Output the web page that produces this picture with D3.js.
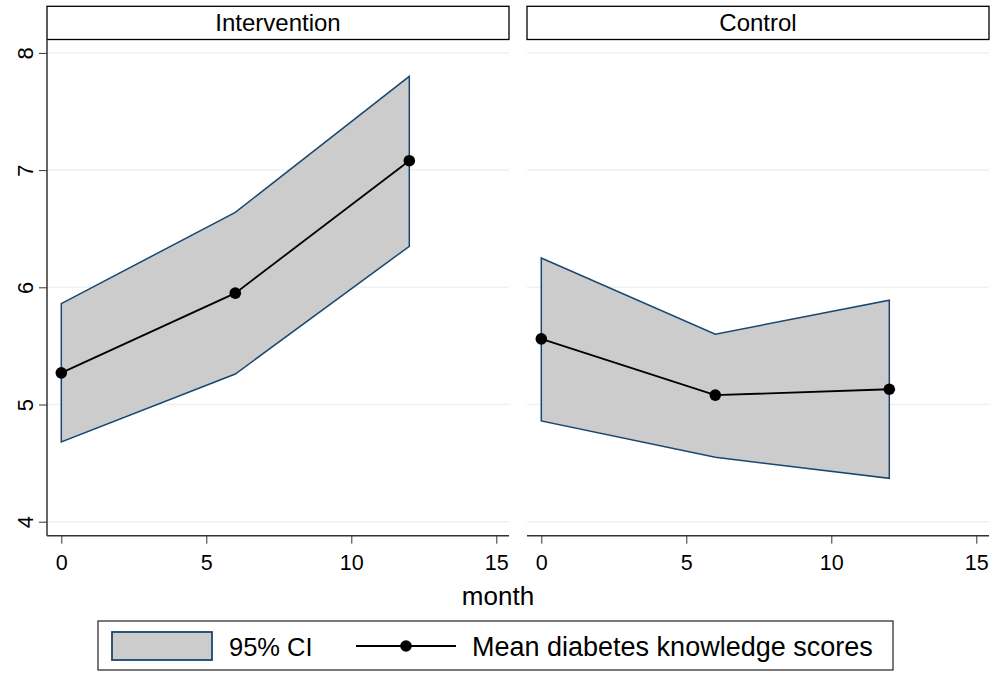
<!DOCTYPE html>
<html>
<head>
<meta charset="utf-8">
<script src="https://cdn.jsdelivr.net/npm/d3@7"></script>
<style>
  body { margin: 0; background: #fff; }
  text { font-family: "Liberation Sans", Arial, sans-serif; fill: #000; }
</style>
</head>
<body>
<svg id="chart" width="994" height="673"></svg>
<script>
// data
var groups = ["Intervention", "Control"];
var months = [0, 6, 12];
var meanScores = [[5.27, 5.95, 7.08], [5.56, 5.08, 5.13]];
var upperCI = [[5.86, 6.64, 7.80], [6.25, 5.60, 5.89]];
var lowerCI = [[4.68, 5.26, 6.35], [4.86, 4.55, 4.37]];
var xTicks = [0, 5, 10, 15];
var yTicks = [4, 5, 6, 7, 8];

var svg = d3.select("#chart");
var navy = "#1a476f";
var gridColor = "#eaf2f3";
var fontFam = "Liberation Sans, Arial, sans-serif";

// panel geometry
var panels = [{left: 47, right: 509}, {left: 527, right: 989}];
var plotTop = 39.5, plotBottom = 535.7;

var y = d3.scaleLinear().domain([4, 8]).range([521.7, 52.9]);

panels.forEach(function(p, gi) {
  var x0 = p.left + 14.3;
  var x = d3.scaleLinear().domain([0, 15]).range([x0, x0 + 435]);
  var g = svg.append("g");

  // grid lines
  g.selectAll("line.grid").data(yTicks).enter().append("line")
    .attr("x1", p.left).attr("x2", p.right)
    .attr("y1", function(d) { return y(d); }).attr("y2", function(d) { return y(d); })
    .attr("stroke", gridColor).attr("stroke-width", 1.5);

  // CI band
  var band = months.map(function(m, i) { return [m, lowerCI[gi][i], upperCI[gi][i]]; });
  var area = d3.area()
    .x(function(d) { return x(d[0]); })
    .y0(function(d) { return y(d[1]); })
    .y1(function(d) { return y(d[2]); });
  var poly = band.map(function(d) { return [x(d[0]), y(d[2])]; })
    .concat(band.slice().reverse().map(function(d) { return [x(d[0]), y(d[1])]; }));
  g.append("path")
    .attr("d", area(band))
    .attr("fill", "#cccccc");
  g.append("path")
    .attr("d", "M" + poly.join("L") + "Z")
    .attr("fill", "none").attr("stroke", navy).attr("stroke-width", 1.5);

  // mean line + markers
  var pts = months.map(function(m, i) { return [m, meanScores[gi][i]]; });
  g.append("path")
    .attr("d", d3.line().x(function(d) { return x(d[0]); }).y(function(d) { return y(d[1]); })(pts))
    .attr("fill", "none").attr("stroke", "#000").attr("stroke-width", 1.8);
  g.selectAll("circle").data(pts).enter().append("circle")
    .attr("cx", function(d) { return x(d[0]); })
    .attr("cy", function(d) { return y(d[1]); })
    .attr("r", 5.8).attr("fill", "#000");

  // x axis
  var xa = g.append("g").attr("transform", "translate(0," + plotBottom + ")")
    .call(d3.axisBottom(x).tickValues(xTicks).tickSize(8).tickPadding(11).tickFormat(d3.format("d")));
  xa.select(".domain").attr("d", "M" + p.left + ",0H" + p.right).attr("stroke", "#333").attr("stroke-width", 1.5);
  xa.selectAll(".tick line").attr("stroke", "#333").attr("stroke-width", 1);
  xa.selectAll(".tick text").attr("font-size", 21.5).attr("font-family", fontFam);

  // strip title
  g.append("rect")
    .attr("x", p.left).attr("y", 6.3).attr("width", p.right - p.left).attr("height", plotTop - 6.3)
    .attr("fill", "#fff").attr("stroke", "#000").attr("stroke-width", 1.3);
  g.append("text")
    .attr("x", (p.left + p.right) / 2).attr("y", 31)
    .attr("text-anchor", "middle").attr("font-size", 24)
    .text(groups[gi]);
});

// y axis on left panel
var ya = svg.append("g").attr("transform", "translate(" + panels[0].left + ",0)")
  .call(d3.axisLeft(y).tickValues(yTicks).tickSize(8).tickPadding(0).tickFormat(d3.format("d")));
ya.select(".domain").attr("d", "M0," + plotTop + "V" + plotBottom).attr("stroke", "#333").attr("stroke-width", 1.5);
ya.selectAll(".tick line").attr("stroke", "#333").attr("stroke-width", 1);
ya.selectAll(".tick text")
  .attr("font-size", 22).attr("font-family", fontFam)
  .attr("x", 0).attr("dy", null).attr("text-anchor", "middle")
  .attr("transform", "translate(-20,0) rotate(-90)")
  .attr("dominant-baseline", "middle");

// x axis title
svg.append("text").attr("x", 498).attr("y", 605)
  .attr("text-anchor", "middle").attr("font-size", 26).text("month");

// legend
var lg = svg.append("g");
lg.append("rect").attr("x", 98).attr("y", 621).attr("width", 795).attr("height", 49)
  .attr("fill", "#fff").attr("stroke", "#333").attr("stroke-width", 1.3);
lg.append("rect").attr("x", 112).attr("y", 632).attr("width", 100).attr("height", 28)
  .attr("fill", "#cccccc").attr("stroke", navy).attr("stroke-width", 1.8);
lg.append("text").attr("x", 229).attr("y", 656).attr("font-size", 25.5).text("95% CI");
lg.append("line").attr("x1", 356).attr("x2", 456).attr("y1", 646).attr("y2", 646)
  .attr("stroke", "#000").attr("stroke-width", 1.8);
lg.append("circle").attr("cx", 406).attr("cy", 646).attr("r", 5.8).attr("fill", "#000");
lg.append("text").attr("x", 472).attr("y", 656).attr("font-size", 27).text("Mean diabetes knowledge scores");
</script>
</body>
</html>
